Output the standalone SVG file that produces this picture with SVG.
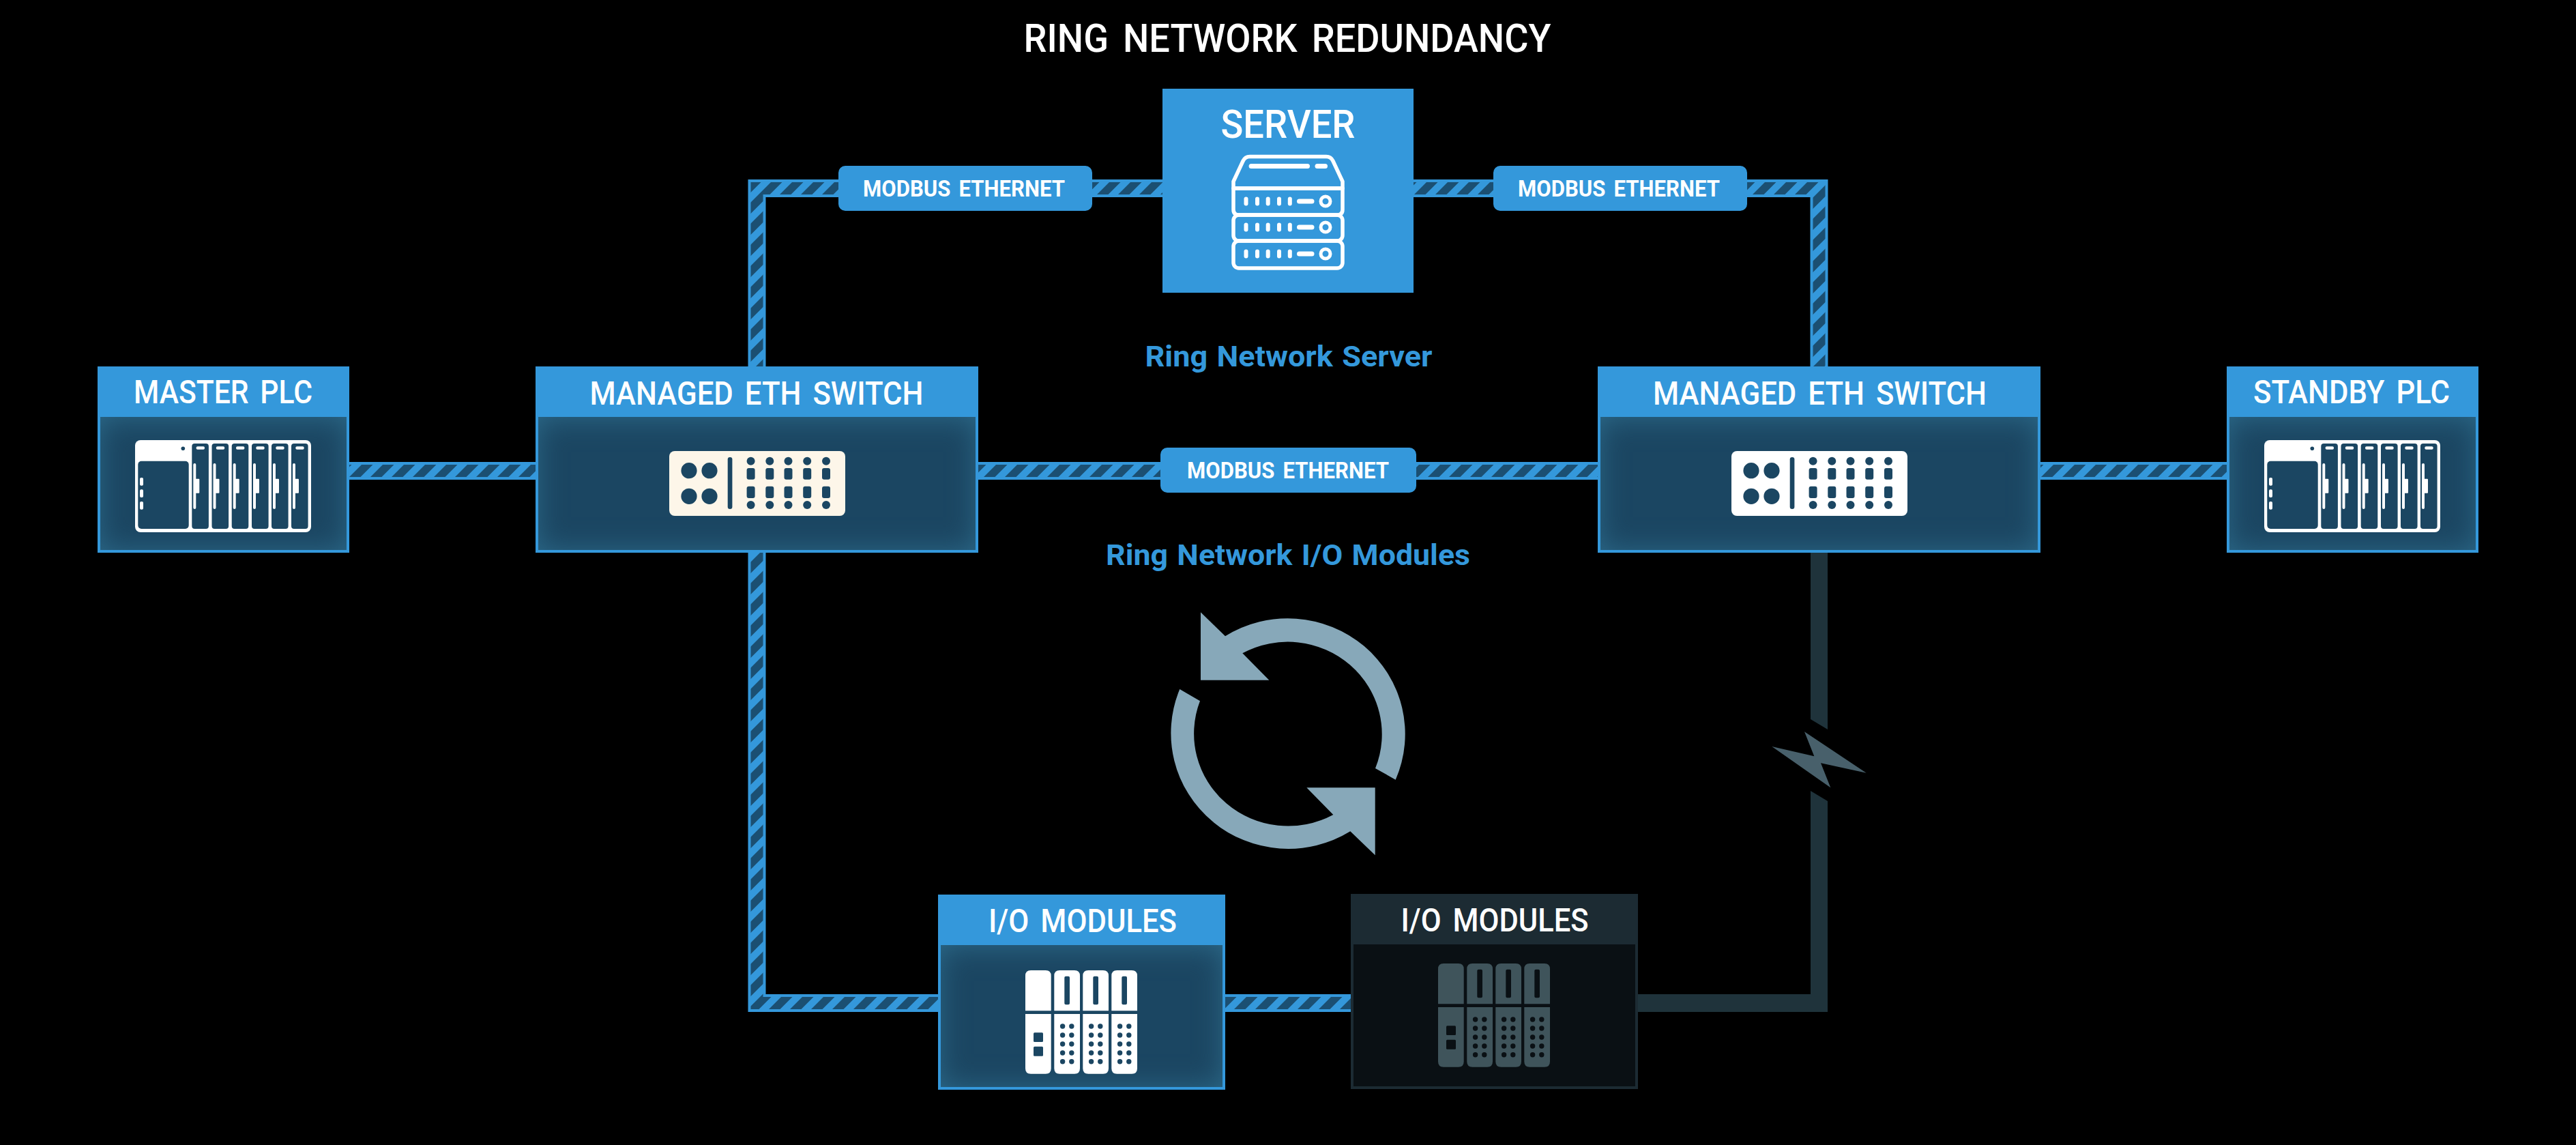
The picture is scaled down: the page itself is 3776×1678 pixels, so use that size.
<svg xmlns="http://www.w3.org/2000/svg" width="3776" height="1678" viewBox="0 0 3776 1678">
<style>
text{font-family:"Roboto","Liberation Sans",sans-serif;text-anchor:middle;fill:#fff;font-weight:500;word-spacing:.14em}
.pill{fill:#3498db}
.pilltext{font-size:33px;font-weight:700}
.ring{font-size:42px;font-weight:700;fill:#3498db;word-spacing:.05em}
.nodetext{font-size:49px}
.head{fill:#3498db}
.body{fill:#1b4662;filter:url(#inset)}
.frame{fill:none;stroke:#3498db;stroke-width:4}
.cable{fill:none;stroke:#3498db;stroke-width:26}
.stripes{fill:none;stroke:url(#stripe);stroke-width:18}
.dead{fill:#1f333b}
.srv{fill:none;stroke:#fff;stroke-width:5.5;stroke-linejoin:round}
.srvf{fill:#fff}
</style>
<defs>
<pattern id="stripe" patternUnits="userSpaceOnUse" width="31" height="31">
<path fill="#1b4f72" d="M2 0H18.5L0 18.5V2ZM31 2V18.5L18.5 31H2Z"/>
</pattern>
<filter id="inset" x="0" y="0" width="100%" height="100%" color-interpolation-filters="sRGB">
<feGaussianBlur in="SourceAlpha" stdDeviation="22" result="b"/>
<feComposite in="SourceAlpha" in2="b" operator="out" result="edge"/>
<feFlood flood-color="#2d6c8c" result="c"/>
<feComposite in="c" in2="edge" operator="in" result="glow"/>
<feMerge><feMergeNode in="SourceGraphic"/><feMergeNode in="glow"/></feMerge>
</filter>
<g id="plc-col">
<rect width="24.6" height="125" rx="4" fill="currentColor"/>
<rect x="6.3" y="4.3" width="12.4" height="4.4" rx="2" fill="#fff"/>
<rect x="2" y="29" width="4" height="67" rx="2" fill="#fff"/>
<rect x="5" y="51.7" width="6" height="21" rx="1" fill="#fff"/>
</g>
<g id="plc">
<rect width="258" height="135" rx="8" fill="#fff"/>
<rect x="4.3" y="30.7" width="74.4" height="99.3" rx="5" fill="currentColor"/>
<circle cx="70.3" cy="12.3" r="2.8" fill="currentColor"/>
<rect x="7" y="55" width="5" height="11.7" rx="2" fill="#fff"/>
<rect x="7" y="72.3" width="5" height="11.7" rx="2" fill="#fff"/>
<rect x="7" y="90" width="5" height="11.7" rx="2" fill="#fff"/>
<use href="#plc-col" x="83.3" y="5"/>
<use href="#plc-col" x="112.5" y="5"/>
<use href="#plc-col" x="141.7" y="5"/>
<use href="#plc-col" x="171" y="5"/>
<use href="#plc-col" x="200" y="5"/>
<use href="#plc-col" x="229" y="5"/>
</g>
<g id="sw-col">
<circle cx="0" cy="14.7" r="6"/>
<rect x="-6" y="25" width="12" height="16.7" rx="3"/>
<rect x="-6" y="51.7" width="12" height="17.3" rx="3"/>
<circle cx="0" cy="79" r="6"/>
</g>
<g id="switch">
<rect width="258" height="95" rx="8"/>
<g fill="#1b4662">
<circle cx="29" cy="28.7" r="11.6"/><circle cx="59" cy="28.7" r="11.6"/>
<circle cx="29" cy="66.3" r="11.6"/><circle cx="59" cy="66.3" r="11.6"/>
<rect x="85.7" y="9" width="6.7" height="76" rx="3.3"/>
<use href="#sw-col" x="119.6"/><use href="#sw-col" x="147.3"/><use href="#sw-col" x="174.5"/><use href="#sw-col" x="202.2"/><use href="#sw-col" x="230"/>
</g>
</g>
<g id="dots">
<circle cx="12.3" cy="0" r="3.7"/><circle cx="25.5" cy="0" r="3.7"/>
</g>
<g id="io-mod">
<path d="M0 59.3V8Q0 0 8 0H29.7Q37.7 0 37.7 8V59.3ZM15 10.7V48.3Q15 50.3 17 50.3H20.7Q22.7 50.3 22.7 48.3V10.7Q22.7 8.7 20.7 8.7H17Q15 8.7 15 10.7Z" fill-rule="evenodd"/>
<path d="M0 64H37.7V143.7Q37.7 151.7 29.7 151.7H8Q0 151.7 0 143.7Z"/>
<g fill="currentColor">
<use href="#dots" y="82"/><use href="#dots" y="95"/><use href="#dots" y="108"/><use href="#dots" y="121"/><use href="#dots" y="133.7"/>
</g>
</g>
<g id="io">
<path d="M0 59.3V8Q0 0 8 0H29.7Q37.7 0 37.7 8V59.3Z"/>
<path d="M0 64H37.7V143.7Q37.7 151.7 29.7 151.7H8Q0 151.7 0 143.7Z"/>
<rect x="12" y="91.3" width="14" height="13.7" rx="1.5" fill="currentColor"/>
<rect x="12" y="111.7" width="14" height="14" rx="1.5" fill="currentColor"/>
<use href="#io-mod" x="42.3"/><use href="#io-mod" x="84.3"/><use href="#io-mod" x="126.3"/>
</g>
<g id="srv-row">
<g class="srvf">
<rect x="1823.5" y="-6.5" width="6" height="13" rx="3"/><rect x="1840" y="-6.5" width="6" height="13" rx="3"/><rect x="1855.7" y="-6.5" width="6" height="13" rx="3"/><rect x="1872" y="-6.5" width="6" height="13" rx="3"/><rect x="1887.8" y="-6.5" width="6" height="13" rx="3"/>
<rect x="1901" y="-3.5" width="25.5" height="7" rx="3.5"/>
</g>
<circle cx="1943" cy="0" r="7" fill="none" stroke="#fff" stroke-width="5"/>
</g>
</defs>

<rect width="3776" height="1678" fill="#000"/>

<text x="1887" y="76" font-size="57" textLength="773" lengthAdjust="spacingAndGlyphs">RING NETWORK REDUNDANCY</text>

<g id="connectors">
<path class="cable" d="M1704 276H1109.5V537"/>
<path class="stripes" d="M1704 276H1109.5V537"/>
<path class="cable" d="M2072 276H2666.5V537"/>
<path class="stripes" d="M2072 276H2666.5V537"/>
<path class="cable" d="M512 690H785"/>
<path class="stripes" d="M512 690H785"/>
<path class="cable" d="M1434 690H2342"/>
<path class="stripes" d="M1434 690H2342"/>
<path class="cable" d="M2991 690H3264"/>
<path class="stripes" d="M2991 690H3264"/>
<path class="cable" d="M1109.5 810V1470H1375"/>
<path class="stripes" d="M1109.5 810V1470H1375"/>
<path class="cable" d="M1796 1470H1980"/>
<path class="stripes" d="M1796 1470H1980"/>
<path class="dead" d="M2654 810V1054L2679 1069V810Z"/>
<path class="dead" d="M2654 1159L2679 1174V1483H2401V1457H2654Z"/>
</g>

<g id="break-bolt"><path fill="#48606b" d="M2645 1072.3L2735.7 1132.7L2669 1118.3L2683.3 1154.3L2597.3 1094L2659.3 1108.3Z"/></g>

<g id="label-top-left"><rect class="pill" x="1229" y="243" width="372" height="66" rx="10"/><text class="pilltext" x="1413" y="288" textLength="296" lengthAdjust="spacingAndGlyphs">MODBUS ETHERNET</text></g>
<g id="label-top-right"><rect class="pill" x="2189" y="243" width="372" height="66" rx="10"/><text class="pilltext" x="2373" y="288" textLength="296" lengthAdjust="spacingAndGlyphs">MODBUS ETHERNET</text></g>
<g id="label-middle"><rect class="pill" x="1701" y="656" width="375" height="66" rx="10"/><text class="pilltext" x="1888" y="701" textLength="296" lengthAdjust="spacingAndGlyphs">MODBUS ETHERNET</text></g>

<g id="server">
<rect class="head" x="1704" y="130" width="368" height="299"/>
<text x="1888" y="202" font-size="58" textLength="197" lengthAdjust="spacingAndGlyphs">SERVER</text>
<path class="srv" d="M1808 276V266L1822 236Q1825 229.5 1832 229.5H1944Q1951 229.5 1954 236L1968 266V276Z"/>
<rect class="srvf" x="1830.6" y="240" width="89.4" height="7" rx="3.5"/>
<rect class="srvf" x="1927.5" y="240" width="18.5" height="7" rx="3.5"/>
<path class="srv" d="M1808 276H1968V307Q1968 315 1960 315H1816Q1808 315 1808 307Z"/>
<rect class="srv" x="1808" y="315" width="160" height="38" rx="8"/>
<rect class="srv" x="1808" y="353" width="160" height="40" rx="8"/>
<use href="#srv-row" y="295"/><use href="#srv-row" y="333"/><use href="#srv-row" y="372"/>
</g>

<text id="ring-server" class="ring" x="1889" y="537" textLength="421" lengthAdjust="spacingAndGlyphs">Ring Network Server</text>
<text id="ring-io" class="ring" x="1888" y="828" textLength="534" lengthAdjust="spacingAndGlyphs">Ring Network I/O Modules</text>

<g id="refresh" fill="#87a8b9">
<path d="M1760 897.3V996.7H1860.3L1821.3 957.3A138 135.5 0 0 1 2016 1126L2045.7 1142.7A172 169.5 0 0 0 1796 932.3Z"/>
<path d="M2015.7 1154.3V1253.3L1979.3 1218.3A172 169.5 0 0 1 1729.3 1010L1759 1027.3A138 135.5 0 0 0 1954.3 1194L1915.3 1154.3Z"/>
</g>

<g id="master-plc">
<rect class="body" x="143" y="611" width="369" height="199"/>
<rect class="frame" x="145" y="539" width="365" height="269"/>
<rect class="head" x="143" y="537" width="369" height="74"/>
<text class="nodetext" x="327" y="591" textLength="262" lengthAdjust="spacingAndGlyphs">MASTER PLC</text>
<use href="#plc" x="198" y="645" color="#1b4662"/>
</g>

<g id="switch-left">
<rect class="body" x="785" y="611" width="649" height="199"/>
<rect class="frame" x="787" y="539" width="645" height="269"/>
<rect class="head" x="785" y="537" width="649" height="74"/>
<text class="nodetext" x="1109" y="593" textLength="489" lengthAdjust="spacingAndGlyphs">MANAGED ETH SWITCH</text>
<use href="#switch" x="981" y="661" fill="#fdf6e9"/>
</g>

<g id="switch-right">
<rect class="body" x="2342" y="611" width="649" height="199"/>
<rect class="frame" x="2344" y="539" width="645" height="269"/>
<rect class="head" x="2342" y="537" width="649" height="74"/>
<text class="nodetext" x="2667.5" y="593" textLength="489" lengthAdjust="spacingAndGlyphs">MANAGED ETH SWITCH</text>
<use href="#switch" x="2538" y="661" fill="#fff"/>
</g>

<g id="standby-plc">
<rect class="body" x="3264" y="611" width="369" height="199"/>
<rect class="frame" x="3266" y="539" width="365" height="269"/>
<rect class="head" x="3264" y="537" width="369" height="74"/>
<text class="nodetext" x="3447" y="591" textLength="288" lengthAdjust="spacingAndGlyphs">STANDBY PLC</text>
<use href="#plc" x="3319" y="645" color="#1b4662"/>
</g>

<g id="io-active">
<rect class="body" x="1375" y="1385" width="421" height="212"/>
<rect class="frame" x="1377" y="1313" width="417" height="282"/>
<rect class="head" x="1375" y="1311" width="421" height="74"/>
<text class="nodetext" x="1587" y="1366" textLength="276" lengthAdjust="spacingAndGlyphs">I/O MODULES</text>
<use href="#io" x="1503" y="1422" fill="#fff" color="#1b4662"/>
</g>

<g id="io-failed">
<rect x="1980" y="1310" width="421" height="286" fill="#0a1014"/>
<rect x="1982" y="1312" width="417" height="282" fill="none" stroke="#1c2b33" stroke-width="4"/>
<rect x="1980" y="1310" width="421" height="74" fill="#1c2b33"/>
<text class="nodetext" x="2191" y="1365" textLength="275" lengthAdjust="spacingAndGlyphs">I/O MODULES</text>
<use href="#io" x="2108" y="1412" fill="#3f545b" color="#0a1014"/>
</g>
</svg>
